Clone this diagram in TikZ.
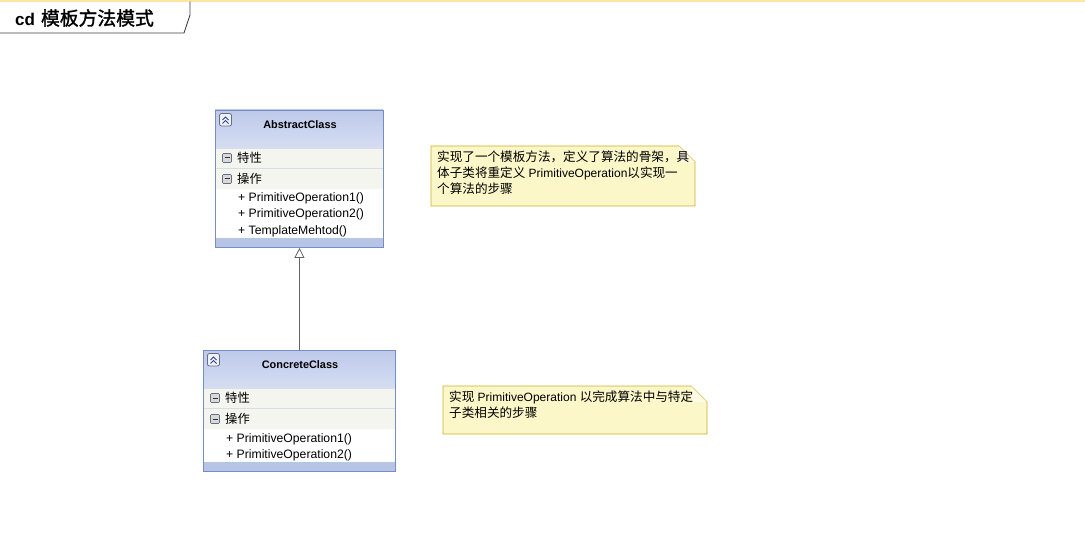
\documentclass[tikz,border=0pt]{standalone}
\usepackage{fontspec}
\setmainfont{Liberation Sans}
\newfontfamily\cjk{Noto Sans CJK SC}
\newfontfamily\cjkbold{Noto Sans CJK SC}[FakeBold=1.6]
\usetikzlibrary{arrows.meta}
\definecolor{hdrtop}{RGB}{190,201,234}
\definecolor{hdrbot}{RGB}{214,221,242}
\definecolor{rowfill}{RGB}{244,245,239}
\definecolor{sepline}{RGB}{216,221,232}
\definecolor{barfill}{RGB}{184,196,230}
\definecolor{clsborder}{RGB}{117,142,194}
\definecolor{notefill}{RGB}{251,247,200}
\definecolor{notefold}{RGB}{253,251,230}
\definecolor{noteborder}{RGB}{206,176,40}
\definecolor{bandcol}{RGB}{253,231,160}
\definecolor{iconborder}{RGB}{100,110,130}
\definecolor{chev}{RGB}{50,70,140}
\definecolor{linkcol}{RGB}{100,100,100}
\newcommand\nc[1]{{\cjk\fontsize{12.6}{16}\selectfont #1}}
\begin{document}
\begin{tikzpicture}[x=1pt,y=-1pt,
  hdr/.style={top color=hdrtop,bottom color=hdrbot,draw=none},
  clsframe/.style={draw=clsborder,line width=0.9pt,fill=none,inner sep=0pt,anchor=north west},
  clstitle/.style={font=\fontsize{10.9}{12}\selectfont\bfseries,inner sep=0pt},
  seclabel/.style={font=\fontsize{12.3}{14}\selectfont\cjk,anchor=west,inner sep=0pt},
  item/.style={font=\fontsize{12.2}{14}\selectfont,anchor=west,inner sep=0pt},
  notetext/.style={font=\fontsize{12}{15.7}\selectfont,anchor=north west,inner sep=0pt,align=left},
  noteshape/.style={fill=notefill,draw=noteborder,line width=0.8pt},
  gen/.style={draw=linkcol,line width=0.8pt,-{Triangle[open,length=10pt,width=10pt,fill=white]}},
]
\useasboundingbox (0,0) rectangle (1085,556);

% top band and title tab
\fill[bandcol] (0,0) rectangle (1085,2.2);
\draw[fill=white,draw=black!75,line width=0.8pt] (-1,33) -- (184,33) -- (190,15) -- (190,1.5);
\node[anchor=west,inner sep=0pt] (title) at (15,18)
  {\fontsize{17}{20}\selectfont\bfseries cd\hspace{6pt}\mdseries\cjkbold\fontsize{18.8}{20}\selectfont 模板方法模式};

% ---------- AbstractClass ----------
\fill[hdr] (215,110) rectangle (383,148);
\fill[rowfill] (215,148) rectangle (383,189);
\draw[sepline,line width=0.8pt] (215,168) -- (383,168);
\draw[sepline,line width=0.8pt] (215,148) -- (383,148);
\fill[white] (215,189) rectangle (383,238);
\fill[barfill] (215,238) rectangle (383,247);
\node[clsframe,minimum width=168,minimum height=137] (abs) at (215,110) {};
\draw[iconborder,fill=white!60!hdrbot,rounded corners=2pt,line width=0.8pt] (219.5,113.5) rectangle (231.5,126);
\draw[chev,line width=1pt] (222.5,120) -- (225.5,117) -- (228.5,120) (222.5,123.5) -- (225.5,120.5) -- (228.5,123.5);
\node[clstitle] (absname) at (300,125) {AbstractClass};
\draw[iconborder,fill=white!85!black,rounded corners=1pt,line width=0.7pt] (222.5,153.5) rectangle (231.5,162.5);
\draw[black!80,line width=1pt] (224.5,158) -- (229.5,158);
\node[seclabel] (absattr) at (237,158) {特性};
\draw[iconborder,fill=white!85!black,rounded corners=1pt,line width=0.7pt] (222.5,174.5) rectangle (231.5,183.5);
\draw[black!80,line width=1pt] (224.5,179) -- (229.5,179);
\node[seclabel] (absops) at (237,179) {操作};
\node[item] (a1) at (238,198.5) {+ PrimitiveOperation1()};
\node[item] (a2) at (238,214.5) {+ PrimitiveOperation2()};
\node[item] (a3) at (238,231) {+ TemplateMehtod()};

% ---------- ConcreteClass ----------
\fill[hdr] (203,350) rectangle (395,388);
\fill[rowfill] (203,388) rectangle (395,429);
\draw[sepline,line width=0.8pt] (203,408) -- (395,408);
\draw[sepline,line width=0.8pt] (203,388) -- (395,388);
\fill[white] (203,429) rectangle (395,462);
\fill[barfill] (203,462) rectangle (395,471);
\node[clsframe,minimum width=192,minimum height=121] (con) at (203,350) {};
\draw[iconborder,fill=white!60!hdrbot,rounded corners=2pt,line width=0.8pt] (207.5,353.5) rectangle (219.5,366);
\draw[chev,line width=1pt] (210.5,360) -- (213.5,357) -- (216.5,360) (210.5,363.5) -- (213.5,360.5) -- (216.5,363.5);
\node[clstitle] (conname) at (300,365) {ConcreteClass};
\draw[iconborder,fill=white!85!black,rounded corners=1pt,line width=0.7pt] (210.5,393.5) rectangle (219.5,402.5);
\draw[black!80,line width=1pt] (212.5,398) -- (217.5,398);
\node[seclabel] (conattr) at (225,398) {特性};
\draw[iconborder,fill=white!85!black,rounded corners=1pt,line width=0.7pt] (210.5,414.5) rectangle (219.5,423.5);
\draw[black!80,line width=1pt] (212.5,419) -- (217.5,419);
\node[seclabel] (conops) at (225,419) {操作};
\node[item] (c1) at (226,439) {+ PrimitiveOperation1()};
\node[item] (c2) at (226,455) {+ PrimitiveOperation2()};

% generalization
\draw[gen] (con.north) -- (abs.south);

% ---------- notes ----------
\draw[noteshape] (431,146) -- (679,146) -- (695,162) -- (695,206) -- (431,206) -- cycle;
\fill[notefold] (679,146) -- (679,162) -- (695,162) -- cycle;
\draw[noteborder!60,line width=0.6pt] (679,146) -- (695,162);
\node[notetext] (note1) at (437,151)
  {\nc{实现了一个模板方法，定义了算法的骨架，具}\\
   \nc{体子类将重定义} PrimitiveOperation\nc{以实现一}\\
   \nc{个算法的步骤}};

\draw[noteshape] (443,386) -- (691,386) -- (707,402) -- (707,434) -- (443,434) -- cycle;
\fill[notefold] (691,386) -- (691,402) -- (707,402) -- cycle;
\draw[noteborder!60,line width=0.6pt] (691,386) -- (707,402);
\node[notetext] (note2) at (449,391)
  {\nc{实现} PrimitiveOperation \nc{以完成算法中与特定}\\
   \nc{子类相关的步骤}};
\end{tikzpicture}
\end{document}
